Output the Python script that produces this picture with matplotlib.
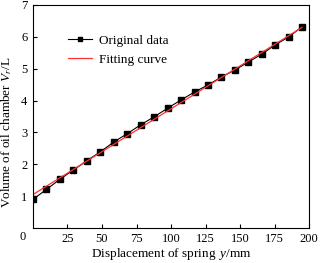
import matplotlib
matplotlib.use("Agg")
import matplotlib.pyplot as plt

plt.rcParams['font.family'] = ['Liberation Serif', 'DejaVu Serif']
plt.rcParams['mathtext.fontset'] = 'custom'
plt.rcParams['mathtext.rm'] = 'Liberation Serif'
plt.rcParams['mathtext.it'] = 'Liberation Serif:italic'

disp = [0, 9.75, 19.5, 29.25, 39, 48.75, 58.5, 68.25, 78, 87.75, 97.5,
        107.25, 117, 126.75, 136.5, 146.25, 156, 165.75, 175.5, 185.25, 195]
volume = [0.90, 1.21, 1.53, 1.82, 2.11, 2.39, 2.70, 2.96, 3.24, 3.49, 3.76,
          4.02, 4.27, 4.49, 4.74, 4.96, 5.21, 5.46, 5.75, 6.00, 6.32]
fit_x = [0, 195]
fit_y = [1.05, 6.30]
xticks = [25, 50, 75, 100, 125, 150, 175, 200]
yticks = [1, 2, 3, 4, 5, 6, 7]

fig = plt.figure(figsize=(3.2, 2.63), dpi=100)
ax = fig.add_axes([0.103, 0.133, 0.863, 0.848])

ax.plot(disp, volume, color='black', lw=0.8, marker='s', markersize=3.8,
        label='Original data')
ax.plot(fit_x, fit_y, color='#ff3030', lw=0.9, label='Fitting curve')

ax.set_xlim(0, 200)
ax.set_ylim(0, 7)
ax.set_xticks(xticks)
ax.set_yticks(yticks)
ax.tick_params(direction='in', labelsize=9, length=3, width=0.8)
ax.tick_params(axis='y', pad=4)
for s in ax.spines.values():
    s.set_linewidth(0.8)

ax.text(-0.036, -0.042, '0', transform=ax.transAxes, fontsize=9,
        ha='center', va='center')

ax.set_xlabel('Displacement of spring $\\,y$/mm', fontsize=9.5, labelpad=1)
ax.set_ylabel('Volume of oil chamber $V_r$/L', fontsize=9.5)
ax.yaxis.set_label_coords(-0.068, 0.43)

leg = ax.legend(loc='upper left', bbox_to_anchor=(0.085, 0.92), frameon=False,
                fontsize=9.5, handlelength=1.8, handletextpad=0.5,
                labelspacing=0.5, markerscale=0.8)

fig.savefig('out.png', dpi=100)
